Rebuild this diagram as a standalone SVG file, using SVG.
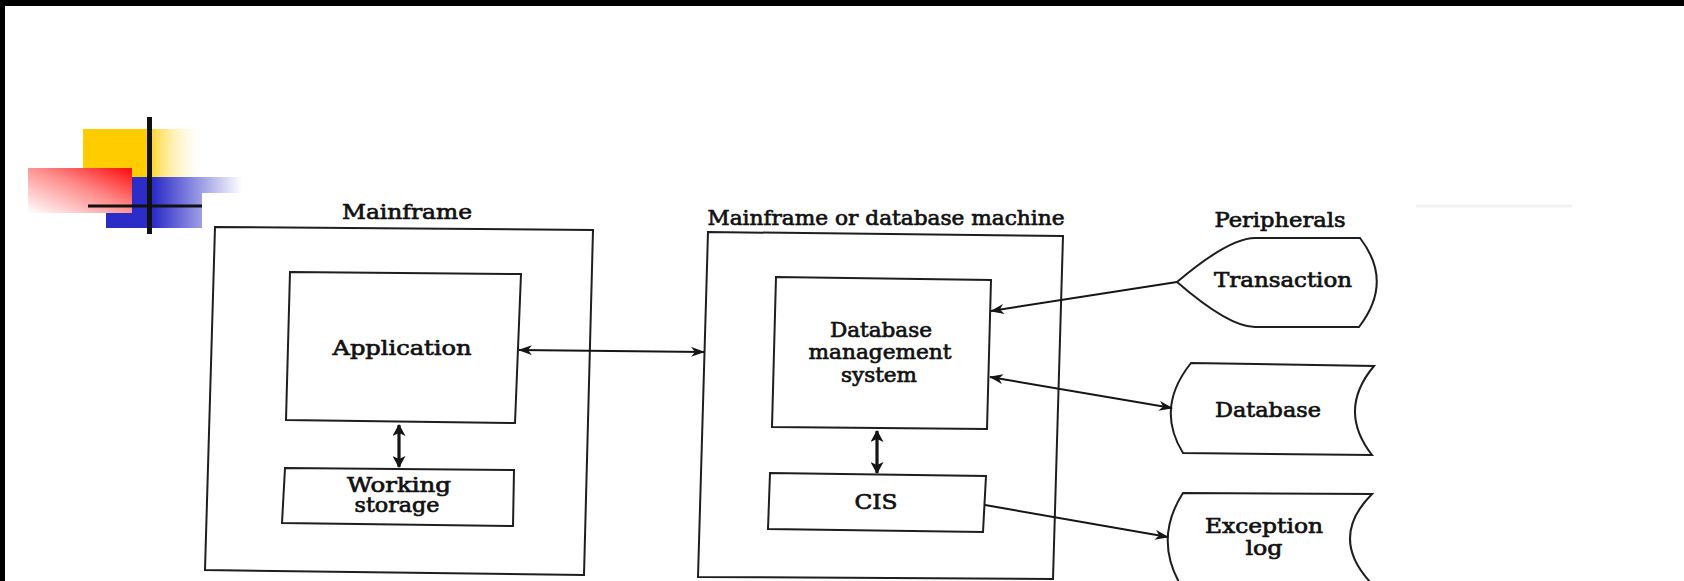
<svg xmlns="http://www.w3.org/2000/svg" width="1684" height="581" viewBox="0 0 1684 581">
  <defs>
    <style>
      .box { fill: none; stroke: #1e1e1e; stroke-width: 2; stroke-linejoin: miter; }
      .lbl { font-family: "DejaVu Serif", "Liberation Serif", serif; font-size: 19.5px; fill: #111; stroke: #111; stroke-width: 0.65; text-anchor: middle; }
      .link { fill: none; stroke: #151515; stroke-width: 2; }
      .link-thick { fill: none; stroke: #151515; stroke-width: 3.2; }
    </style>
    <marker id="head" viewBox="0 0 14 10" refX="13" refY="5" markerWidth="14" markerHeight="10" markerUnits="userSpaceOnUse" orient="auto-start-reverse">
      <path d="M0,0 L14,5 L0,10 L4,5 Z" fill="#151515"/>
    </marker>
    <marker id="head-big" viewBox="0 0 12 13" refX="11" refY="6.5" markerWidth="12" markerHeight="13" markerUnits="userSpaceOnUse" orient="auto-start-reverse">
      <path d="M0,0 L12,6.5 L0,13 L3,6.5 Z" fill="#151515"/>
    </marker>
    <linearGradient id="gYellow" x1="0" y1="0" x2="1" y2="0">
      <stop offset="0" stop-color="#ffcc00"/>
      <stop offset="0.5" stop-color="#ffcc00"/>
      <stop offset="1" stop-color="#ffffff" stop-opacity="0"/>
    </linearGradient>
    <linearGradient id="gBlue" gradientUnits="userSpaceOnUse" x1="106" y1="0" x2="242" y2="0">
      <stop offset="0" stop-color="#2a2ac6"/>
      <stop offset="0.35" stop-color="#2c2cc8"/>
      <stop offset="1" stop-color="#ffffff"/>
    </linearGradient>
    <linearGradient id="gRed" x1="1" y1="0" x2="0" y2="1">
      <stop offset="0" stop-color="#ff0a0a"/>
      <stop offset="0.45" stop-color="#ff8a8a"/>
      <stop offset="1" stop-color="#ffffff"/>
    </linearGradient>
  </defs>

  <rect width="1684" height="581" fill="#ffffff"/>
  <!-- dark frame edges -->
  <rect x="0" y="0" width="1684" height="6" fill="#000"/>
  <rect x="0" y="0" width="5" height="581" fill="#000"/>
  <line x1="1416" y1="206" x2="1572" y2="206" stroke="#f2f2f2" stroke-width="3"/>

  <!-- corner emblem -->
  <g id="emblem">
    <rect x="83" y="129" width="124" height="48" fill="url(#gYellow)"/>
    <rect x="132" y="177" width="110" height="16" fill="url(#gBlue)"/>
    <rect x="106" y="177" width="96" height="51" fill="url(#gBlue)"/>
    <rect x="28" y="168" width="104" height="45" fill="url(#gRed)"/>
    <rect x="147" y="117" width="5" height="117" fill="#111"/>
    <rect x="88" y="204.5" width="114" height="3" fill="#111"/>
  </g>

  <!-- Mainframe -->
  <g id="mainframe">
    <polygon class="box" points="215,227 593,230 584,575 205,570"/>
    <text class="lbl" x="407" y="219" textLength="130" lengthAdjust="spacingAndGlyphs">Mainframe</text>
  </g>
  <g id="application">
    <polygon class="box" points="290,272 521,274 515,423 286,420"/>
    <text class="lbl" x="402" y="355" textLength="139" lengthAdjust="spacingAndGlyphs">Application</text>
  </g>
  <g id="working-storage">
    <polygon class="box" points="285,468 514,470 513,526 282,523"/>
    <text class="lbl" x="399" y="492" textLength="104" lengthAdjust="spacingAndGlyphs">Working</text>
    <text class="lbl" x="397" y="512" textLength="85" lengthAdjust="spacingAndGlyphs">storage</text>
  </g>

  <!-- Mainframe or database machine -->
  <g id="db-machine">
    <polygon class="box" points="708,232 1063,236 1053,579 698,577"/>
    <text class="lbl" x="886" y="225" textLength="357" lengthAdjust="spacingAndGlyphs">Mainframe or database machine</text>
  </g>
  <g id="dbms">
    <polygon class="box" points="776,277 991,280 987,429 772,427"/>
    <text class="lbl" x="881" y="337" textLength="102" lengthAdjust="spacingAndGlyphs">Database</text>
    <text class="lbl" x="880" y="359" textLength="143" lengthAdjust="spacingAndGlyphs">management</text>
    <text class="lbl" x="879" y="382" textLength="76" lengthAdjust="spacingAndGlyphs">system</text>
  </g>
  <g id="cis">
    <polygon class="box" points="770,473 986,476 983,532 768,529"/>
    <text class="lbl" x="876" y="509" textLength="43" lengthAdjust="spacingAndGlyphs">CIS</text>
  </g>

  <!-- Peripherals -->
  <g id="peripherals-title">
    <text class="lbl" x="1280" y="227" textLength="131" lengthAdjust="spacingAndGlyphs">Peripherals</text>
  </g>
  <g id="transaction">
    <path class="box" d="M1177,282 Q1229,238 1255,238 L1360,238 Q1394,282 1359,327 L1255,327 Q1229,327 1177,282 Z"/>
    <text class="lbl" x="1283" y="287" textLength="138" lengthAdjust="spacingAndGlyphs">Transaction</text>
  </g>
  <g id="database">
    <path class="box" d="M1191,363 L1374,366 Q1337,410 1372,455 L1183,453 Q1155,408 1191,363 Z"/>
    <text class="lbl" x="1268" y="417" textLength="106" lengthAdjust="spacingAndGlyphs">Database</text>
  </g>
  <g id="exception-log">
    <path class="box" d="M1183,493 L1372,494 Q1328,538 1372,584 L1180,584 Q1154,538 1183,493 Z"/>
    <text class="lbl" x="1264" y="533" textLength="118" lengthAdjust="spacingAndGlyphs">Exception</text>
    <text class="lbl" x="1264" y="555" textLength="37" lengthAdjust="spacingAndGlyphs">log</text>
  </g>

  <!-- connectors -->
  <g id="connectors">
    <line class="link" x1="519" y1="350" x2="704" y2="352" marker-start="url(#head)" marker-end="url(#head)"/>
    <line class="link-thick" x1="399" y1="425" x2="399" y2="467" marker-start="url(#head-big)" marker-end="url(#head-big)"/>
    <line class="link-thick" x1="877" y1="431" x2="877" y2="473" marker-start="url(#head-big)" marker-end="url(#head-big)"/>
    <line class="link" x1="1177" y1="282" x2="991" y2="311" marker-end="url(#head)"/>
    <line class="link" x1="990" y1="377" x2="1172" y2="408" marker-start="url(#head)" marker-end="url(#head)"/>
    <line class="link" x1="985" y1="505" x2="1168" y2="537" marker-end="url(#head)"/>
  </g>
</svg>
